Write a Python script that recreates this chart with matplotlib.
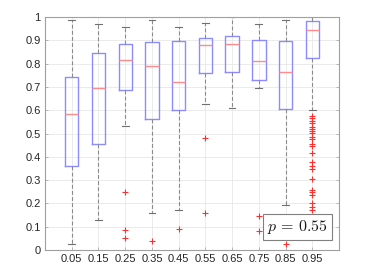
import matplotlib
matplotlib.use("Agg")
import matplotlib.pyplot as plt

plt.rcParams['font.family'] = ['Liberation Sans', 'DejaVu Sans']
plt.rcParams['mathtext.fontset'] = 'cm'

categories = ['0.05', '0.15', '0.25', '0.35', '0.45', '0.55', '0.65', '0.75', '0.85', '0.95']
whislo = [0.027, 0.130, 0.531, 0.160, 0.170, 0.625, 0.608, 0.697, 0.192, 0.600]
q1 = [0.360, 0.456, 0.687, 0.561, 0.600, 0.758, 0.764, 0.728, 0.605, 0.823]
med = [0.585, 0.694, 0.814, 0.788, 0.720, 0.878, 0.883, 0.811, 0.765, 0.943]
q3 = [0.741, 0.844, 0.886, 0.891, 0.898, 0.911, 0.917, 0.903, 0.898, 0.984]
whishi = [0.986, 0.971, 0.957, 0.986, 0.958, 0.973, 0.999, 0.971, 0.986, 1.000]
outliers = [
    [],
    [],
    [0.247, 0.087, 0.053],
    [0.039],
    [0.090],
    [0.479, 0.157],
    [],
    [0.146, 0.083],
    [0.027],
    [0.576, 0.565, 0.555, 0.544, 0.529, 0.521, 0.511, 0.501, 0.485, 0.476,
     0.454, 0.448, 0.415, 0.376, 0.362, 0.348, 0.305, 0.258, 0.250, 0.236,
     0.200, 0.186, 0.172],
]
yticks = [0, 0.1, 0.2, 0.3, 0.4, 0.5, 0.6, 0.7, 0.8, 0.9, 1]
ytick_labels = ['0', '0.1', '0.2', '0.3', '0.4', '0.5', '0.6', '0.7', '0.8', '0.9', '1']

stats = []
for i, c in enumerate(categories):
    stats.append(dict(label=c, whislo=whislo[i], q1=q1[i], med=med[i], q3=q3[i],
                      whishi=whishi[i], fliers=outliers[i]))

fig = plt.figure(figsize=(3.71, 2.76), dpi=100)
ax = fig.add_axes([45/371, 26/276, 294/371, 233/276])

positions = list(range(1, len(categories) + 1))
ax.bxp(stats, positions=positions, widths=0.5, showfliers=True,
       boxprops=dict(color='#8c8cff', linewidth=1.0),
       medianprops=dict(color='#ff8c8c', linewidth=1.0),
       whiskerprops=dict(color='#8a8a8a', linewidth=0.8, linestyle=(0, (3.5, 2))),
       capprops=dict(color='#707070', linewidth=0.8),
       capwidths=0.25,
       flierprops=dict(marker='+', markeredgecolor='#ff3030', markersize=4,
                       markeredgewidth=0.8, linestyle='none'))

ax.set_xlim(0, 11)
ax.set_ylim(0, 1)
ax.set_xticks(positions)
ax.set_xticklabels(categories)
ax.set_yticks(yticks)
ax.set_yticklabels(ytick_labels)
ax.grid(True, color='#e8e8e8', linewidth=0.6)
ax.set_axisbelow(True)
for s in ax.spines.values():
    s.set_color('#a0a0a0')
    s.set_linewidth(0.8)
ax.tick_params(direction='in', length=2, width=0.5, color='#a0a0a0',
               labelsize=8, labelcolor='#262626', right=True, top=False, pad=3)

ax.text(0.963, 0.062, r'$p\,=\,0.55$', transform=ax.transAxes, ha='right', va='bottom',
        fontsize=11.5, color='#1a1a1a',
        bbox=dict(boxstyle='square,pad=0.25', facecolor='white', edgecolor='#808080',
                  linewidth=0.8))

fig.savefig('out.png', dpi=100)
